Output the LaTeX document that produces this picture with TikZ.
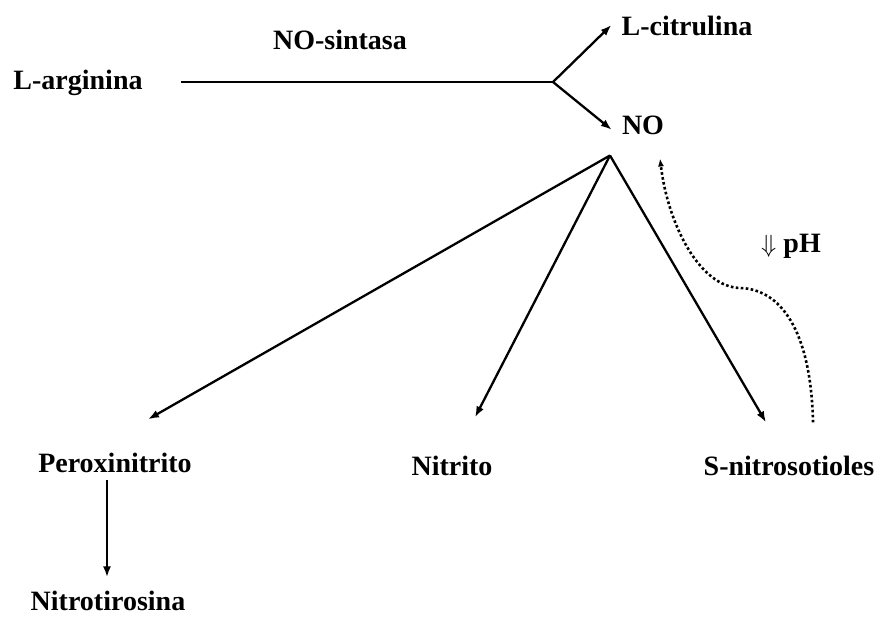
\documentclass[tikz,border=0pt]{standalone}
\usepackage{fontspec}
\setmainfont{Liberation Serif}
\usepackage{tikz}
\usetikzlibrary{arrows.meta,positioning}

\begin{document}
\begin{tikzpicture}[x=1pt,y=-1pt,
  lbl/.style={font=\bfseries\fontsize{28}{34}\selectfont,inner sep=0pt,anchor=base},
  ln/.style={line width=2.3pt},
  arr/.style={ln,-{Latex[length=11pt,width=8pt]}},
  dots/.style={line width=2.6pt,dash pattern=on 2.6pt off 2.4pt,-{Latex[length=8pt,width=6pt]}}]
\useasboundingbox (0,0) rectangle (879,617);
\node[lbl] (larg) at (78,90) {L-arginina};
\node[lbl] (sint) at (340,50) {NO-sintasa};
\node[lbl] (citr) at (687,36) {L-citrulina};
\node[lbl] (no) at (643,135) {NO};
\node[lbl] (perox) at (115,473) {Peroxinitrito};
\node[lbl] (nitrito) at (452,476) {Nitrito};
\node[lbl] (snit) at (789,476) {S-nitrosotioles};
\node[lbl] (nitrot) at (108,611) {Nitrotirosina};
\node[lbl] (ph) at (791,253) {$\Downarrow$ pH};
\coordinate (br) at (553,82);
\coordinate (apex) at ([shift={(-33,20)}]no.south);
\draw[ln,shorten <=38pt] (larg.east |- br) -- (br);
\draw[arr] (br) -- ([shift={(-10,-1.5)}]citr.west);
\draw[arr] (br) -- ([shift={(-10,4)}]no.west);
\draw[arr] (apex) -- ([shift={(33,-34)}]perox.north);
\draw[arr] (apex) -- ([shift={(23,-39)}]nitrito.north);
\draw[arr] (apex) -- ([shift={(-23,-34)}]snit.north);
\draw[arr] ([shift={(-8,7)}]perox.south) -- ([shift={(-1,-14)}]nitrot.north);
\draw[dots] ([shift={(24,-34)}]snit.north) .. controls +(-2,-93) and (780,289) .. (740,288)
  .. controls (700,287) and (668,225) .. ([shift={(17,23)}]no.south);
\end{tikzpicture}
\end{document}
